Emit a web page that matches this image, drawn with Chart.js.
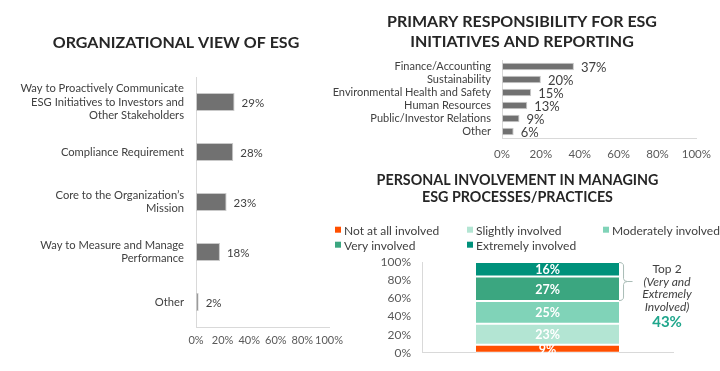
<!DOCTYPE html>
<html><head><meta charset="utf-8">
<script src="https://cdn.jsdelivr.net/npm/chart.js@4.4.1/dist/chart.umd.min.js"></script>
<style>
html,body{margin:0;padding:0;background:#fff;}
body{width:720px;height:371px;position:relative;overflow:hidden;}
.box{position:absolute;}
</style></head><body>
<div class="box" style="left:0;top:0;width:352px;height:371px"><canvas id="c1"></canvas></div>
<div class="box" style="left:250px;top:0;width:470px;height:165px"><canvas id="c2"></canvas></div>
<div class="box" style="left:300px;top:165px;width:420px;height:206px"><canvas id="c3"></canvas></div>
<script>
// ---- data ----
const viewCategories = [
  ["Way to Proactively Communicate", "ESG Initiatives to Investors and", "Other Stakeholders"],
  "Compliance Requirement",
  ["Core to the Organization\u2019s", "Mission"],
  ["Way to Measure and Manage", "Performance"],
  "Other"
];
const viewValues = [29, 28, 23, 18, 2];

const respCategories = ["Finance/Accounting", "Sustainability", "Environmental Health and Safety", "Human Resources", "Public/Investor Relations", "Other"];
const respValues = [37, 20, 15, 13, 9, 6];

const involvementLevels = ["Not at all involved", "Slightly involved", "Moderately involved", "Very involved", "Extremely involved"];
const involvementValues = [9, 23, 25, 27, 16];
const involvementColors = ["#FF4F00", "#B3E5D3", "#80D3B8", "#3BA680", "#00917B"];

const percentTicks = [0, 20, 40, 60, 80, 100];

// ---- shared ----
Chart.defaults.font.family = "Lato, 'Open Sans', sans-serif";
Chart.defaults.animation = false;
const pctTicks = s => { s.ticks = percentTicks.map(v => ({ value: v })); };
const pct = v => v + '%';

const centerTitle = {
  id: 'centerTitle',
  afterDraw(chart, args, o) {
    const ctx = chart.ctx;
    ctx.save();
    ctx.font = 'bold ' + o.size + 'px Lato';
    ctx.fillStyle = '#262626';
    ctx.textAlign = 'center';
    ctx.textBaseline = 'middle';
    o.lines.forEach((t, i) => ctx.fillText(t, o.x, o.y + i * o.gap));
    ctx.restore();
  }
};

const valueLabels = {
  id: 'valueLabels',
  afterDatasetsDraw(chart, args, o) {
    const ctx = chart.ctx;
    ctx.save();
    ctx.font = o.font;
    ctx.fillStyle = o.color;
    ctx.textBaseline = 'middle';
    chart.data.datasets.forEach((ds, di) => {
      chart.getDatasetMeta(di).data.forEach((el, i) => {
        const txt = ds.data[i] + '%';
        if (o.mode === 'end') {
          ctx.textAlign = 'left';
          ctx.fillText(txt, el.x + o.offset, el.y + 1);
        } else {
          const c = el.getCenterPoint();
          ctx.textAlign = 'center';
          ctx.fillText(txt, c.x, c.y + 1);
        }
      });
    });
    ctx.restore();
  }
};

const gridLegend = {
  id: 'gridLegend',
  afterDraw(chart, args, o) {
    const ctx = chart.ctx;
    ctx.save();
    ctx.font = o.font;
    ctx.textBaseline = 'middle';
    ctx.textAlign = 'left';
    chart.data.datasets.forEach((ds, i) => {
      const col = i % o.colX.length, row = Math.floor(i / o.colX.length);
      const x = o.colX[col], y = o.rowY[row];
      ctx.fillStyle = ds.backgroundColor;
      ctx.fillRect(x, y - 3, 6, 6);
      ctx.fillStyle = o.color;
      ctx.fillText(ds.label, x + 9, y + 1);
    });
    ctx.restore();
  }
};

const top2Note = {
  id: 'top2Note',
  afterDraw(chart, args, o) {
    const ctx = chart.ctx;
    const ds = chart.data.datasets;
    const n = ds.length;
    const total = ds.reduce((a, d) => a + d.data[0], 0);
    const top2 = ds[n - 1].data[0] + ds[n - 2].data[0];
    const bar = chart.getDatasetMeta(n - 1).data[0];
    const right = bar.x + bar.width / 2;
    const ys = chart.scales.y;
    const yT = ys.getPixelForValue(total), yB = ys.getPixelForValue(total - top2);
    const bx = right + 4.5, ym = (yT + yB) / 2;
    ctx.save();
    ctx.strokeStyle = '#a9bcb6';
    ctx.lineWidth = 1;
    ctx.beginPath();
    ctx.moveTo(right, yT + 0.5);
    ctx.quadraticCurveTo(bx, yT + 0.5, bx, yT + 4);
    ctx.lineTo(bx, ym - 3);
    ctx.quadraticCurveTo(bx, ym, bx + 4, ym);
    ctx.lineTo(bx + 9, ym);
    ctx.moveTo(bx + 4, ym);
    ctx.quadraticCurveTo(bx, ym, bx, ym + 3);
    ctx.lineTo(bx, yB - 4);
    ctx.quadraticCurveTo(bx, yB - 0.5, right, yB - 0.5);
    ctx.stroke();
    const cx = right + 48;
    ctx.textAlign = 'center';
    ctx.textBaseline = 'middle';
    ctx.fillStyle = '#404040';
    ctx.font = "12px Lato";
    ctx.fillText(o.lines[0], cx, yT + 7);
    ctx.font = "italic 12px Lato";
    ctx.fillText(o.lines[1], cx, yT + 20);
    ctx.fillText(o.lines[2], cx, yT + 32.5);
    ctx.fillText(o.lines[3], cx, yT + 45);
    ctx.font = "bold 15px Lato";
    ctx.fillStyle = '#1FA68C';
    ctx.fillText(top2 + '%', cx, yT + 60.5);
    ctx.restore();
  }
};

// ---- chart 1: Organizational view ----
new Chart(document.getElementById('c1'), {
  type: 'bar',
  data: {
    labels: viewCategories,
    datasets: [{
      data: viewValues,
      backgroundColor: '#717171',
      borderColor: '#c9c9c9',
      borderWidth: 1,
      borderSkipped: false,
      barPercentage: 0.36,
      categoryPercentage: 1
    }]
  },
  options: {
    indexAxis: 'y',
    responsive: true,
    maintainAspectRatio: false,
    devicePixelRatio: 1,
    layout: { padding: { left: 0, right: 23, top: 77, bottom: 0 } },
    plugins: {
      legend: { display: false },
      tooltip: { enabled: false },
      title: { display: false },
      centerTitle: { lines: ['ORGANIZATIONAL VIEW OF ESG'], x: 176, y: 43, gap: 20, size: 16 },
      valueLabels: { mode: 'end', offset: 7, font: "11.5px Lato", color: '#404040' }
    },
    scales: {
      y: {
        grid: { display: false, drawTicks: false },
        border: { display: true, color: '#d9d9d9' },
        ticks: { color: '#404040', font: { size: 11.2, lineHeight: 1.2 }, padding: 12, autoSkip: false },
        afterFit(s) { s.width = 196; }
      },
      x: {
        min: 0, max: 100,
        grid: { display: false, drawTicks: false },
        border: { display: true, color: '#d9d9d9' },
        ticks: { color: '#595959', font: { size: 11 }, padding: 7, callback: pct, autoSkip: false, maxRotation: 0, minRotation: 0 },
        afterBuildTicks: pctTicks,
        afterFit(s) { s.height = 44; }
      }
    }
  },
  plugins: [valueLabels, centerTitle]
});

// ---- chart 2: Primary responsibility ----
new Chart(document.getElementById('c2'), {
  type: 'bar',
  data: {
    labels: respCategories,
    datasets: [{
      data: respValues,
      backgroundColor: '#717171',
      borderColor: '#c9c9c9',
      borderWidth: 1,
      borderSkipped: false,
      barPercentage: 0.56,
      categoryPercentage: 1
    }]
  },
  options: {
    indexAxis: 'y',
    responsive: true,
    maintainAspectRatio: false,
    devicePixelRatio: 1,
    layout: { padding: { left: 0, right: 23, top: 60, bottom: 0 } },
    plugins: {
      legend: { display: false },
      tooltip: { enabled: false },
      title: { display: false },
      centerTitle: { lines: ['PRIMARY RESPONSIBILITY FOR ESG', 'INITIATIVES AND REPORTING'], x: 272, y: 22, gap: 20, size: 16 },
      valueLabels: { mode: 'end', offset: 7, font: "13px Lato", color: '#404040' }
    },
    scales: {
      y: {
        grid: { display: false, drawTicks: false },
        border: { display: true, color: '#d9d9d9' },
        ticks: { color: '#404040', font: { size: 11, lineHeight: 1.1 }, padding: 11, autoSkip: false },
        afterFit(s) { s.width = 252; }
      },
      x: {
        min: 0, max: 100,
        grid: { display: false, drawTicks: false },
        border: { display: true, color: '#d9d9d9' },
        ticks: { color: '#595959', font: { size: 11.5 }, padding: 9, callback: pct, autoSkip: false, maxRotation: 0, minRotation: 0 },
        afterBuildTicks: pctTicks,
        afterFit(s) { s.height = 27; }
      }
    }
  },
  plugins: [valueLabels, centerTitle]
});

// ---- chart 3: Personal involvement ----
new Chart(document.getElementById('c3'), {
  type: 'bar',
  data: {
    labels: ['Involvement'],
    datasets: involvementLevels.map((lvl, i) => ({
      label: lvl,
      data: [involvementValues[i]],
      backgroundColor: involvementColors[i],
      borderColor: '#ffffff',
      borderWidth: { top: 1, bottom: 1, left: 0, right: 0 },
      borderSkipped: false,
      barPercentage: 0.57,
      categoryPercentage: 1
    }))
  },
  options: {
    responsive: true,
    maintainAspectRatio: false,
    devicePixelRatio: 1,
    layout: { padding: { left: 62, right: 47, top: 97, bottom: 0 } },
    plugins: {
      legend: { display: false },
      tooltip: { enabled: false },
      title: { display: false },
      centerTitle: { lines: ['PERSONAL INVOLVEMENT IN MANAGING', 'ESG PROCESSES/PRACTICES'], x: 217.5, y: 15, gap: 17, size: 14.3 },
      valueLabels: { mode: 'center', font: "bold 12.5px Lato", color: '#ffffff' },
      gridLegend: { colX: [35, 167, 303], rowY: [64.7, 79.7], font: "12px Lato", color: '#404040' },
      top2Note: { lines: ['Top 2', '(Very and', 'Extremely', 'Involved)'] }
    },
    scales: {
      x: {
        stacked: true,
        grid: { display: false, drawTicks: false },
        border: { display: true, color: '#d9d9d9' },
        ticks: { display: false },
        afterFit(s) { s.height = 14; }
      },
      y: {
        stacked: true,
        min: 0, max: 100,
        grid: { display: false, drawTicks: false },
        border: { display: true, color: '#d9d9d9' },
        ticks: { color: '#595959', font: { size: 12 }, padding: 11, callback: pct },
        afterBuildTicks: pctTicks,
        afterFit(s) { s.width = 60; }
      }
    }
  },
  plugins: [valueLabels, gridLegend, top2Note, centerTitle]
});
</script>
</body></html>
